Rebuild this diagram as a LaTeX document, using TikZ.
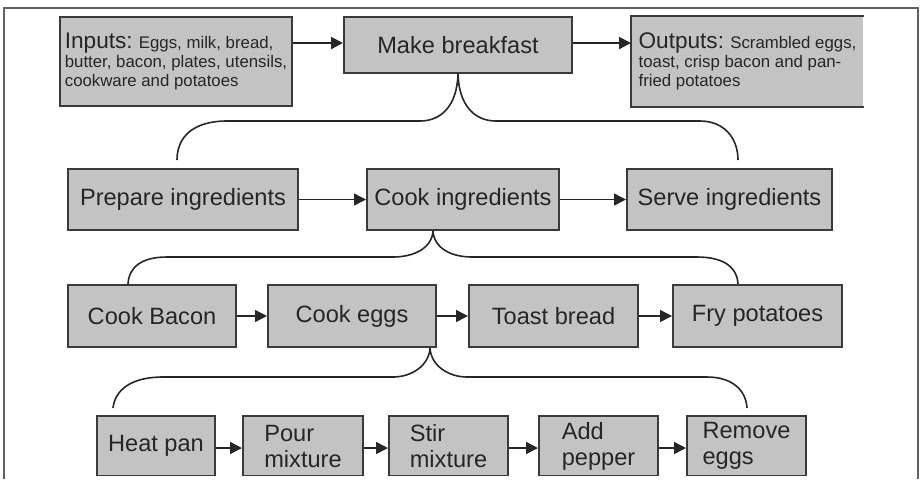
\documentclass[tikz,border=0pt]{standalone}
\usepackage{fontspec}
\setmainfont{Liberation Sans}
\usetikzlibrary{arrows.meta}
\definecolor{boxfill}{HTML}{C3C3C3}
\definecolor{boxline}{HTML}{3A3A3A}
\definecolor{inkcol}{HTML}{262626}
\definecolor{framecol}{HTML}{606060}
\begin{document}
\begin{tikzpicture}[x=0.5pt,y=-0.5pt,
  stepbox/.style={rectangle,draw=boxline,fill=boxfill,line width=1pt,inner sep=0pt,
    text=inkcol,font=\fontsize{11.8pt}{13pt}\selectfont,align=left},
  iobox/.style={stepbox,font=\fontsize{8.4pt}{9.6pt}\selectfont},
  head/.style={font=\fontsize{11.3pt}{9.6pt}\selectfont},
  flow/.style={draw=inkcol,line width=0.75pt,-{Triangle[length=6pt,width=6pt]}},
  bigflow/.style={flow,line width=1pt},
  brace/.style={draw=inkcol,line width=0.8pt},
]
\useasboundingbox (0,0) rectangle (920,479);
% outer frame, open at the bottom
\draw[framecol,line width=1pt] (4,479) -- (4,8) -- (918,8) -- (918,479);

% level 0
\node[iobox,minimum width=116pt,minimum height=44.5pt] (in) at (176,61.5)
  {{\fontsize{11.3pt}{9.6pt}\selectfont Inputs:} Eggs, milk, bread,\\butter, bacon, plates, utensils,\\cookware and potatoes};
\node[stepbox,minimum width=114pt,minimum height=28pt] (mk) at (458,45) {Make breakfast};
\node[iobox,draw=none,minimum width=115.5pt,minimum height=44.5pt] (out) at (747.5,61.5)
  {{\fontsize{11.3pt}{9.6pt}\selectfont Outputs:} Scrambled eggs,\\toast, crisp bacon and pan-\\fried potatoes};
\draw[boxline,line width=1pt] (out.north east) -- (out.north west) -- (out.south west) -- (out.south east);

\draw[bigflow] (in.east |- 0,43) -- (mk.west |- 0,43);
\draw[bigflow] (mk.east |- 0,43) -- (out.west |- 0,43);

% level 1
\node[stepbox,minimum width=115pt,minimum height=30.5pt] (prep) at (183,199.5) {Prepare ingredients};
\node[stepbox,minimum width=96pt,minimum height=30.5pt] (cook) at (463,199.5) {Cook ingredients};
\node[stepbox,minimum width=102.5pt,minimum height=30.5pt] (serve) at (729.5,199.5) {Serve ingredients};
\draw[flow] (prep) -- (cook);
\draw[flow] (cook) -- (serve);

\coordinate (b1l) at ([xshift=-3pt,yshift=4pt]prep.north);
\coordinate (b1r) at ([xshift=4.25pt,yshift=4pt]serve.north);
\draw[brace] (b1l) .. controls (177,137) and (193,121) .. (227,121) -- (420,121)
  .. controls (441,121) and (457,106) .. (mk.south);
\draw[brace] (mk.south) .. controls (459,106) and (475,121) .. (496,121) -- (700,121)
  .. controls (724,121) and (738,138) .. (b1r);

% level 2
\node[stepbox,minimum width=84pt,minimum height=31pt] (bacon) at (152,316) {Cook Bacon};
\node[stepbox,minimum width=84pt,minimum height=31pt] (eggs) at (352,316) {Cook eggs};
\node[stepbox,minimum width=84.5pt,minimum height=31pt] (toast) at (553.5,316) {Toast bread};
\node[stepbox,minimum width=84.5pt,minimum height=31pt] (fry) at (757.5,316) {Fry potatoes};
\draw[flow] (bacon) -- (eggs);
\draw[flow] (eggs) -- (toast);
\draw[flow] (toast) -- (fry);

\coordinate (t2) at ([xshift=-15pt]cook.south);
\coordinate (b2l) at ([xshift=-12pt]bacon.north);
\coordinate (b2r) at ([xshift=-9.75pt]fry.north);
\draw[brace] (b2l) .. controls (129,266) and (143,257) .. (167,257) -- (393,257)
  .. controls (414,257) and (432,248) .. (t2);
\draw[brace] (t2) .. controls (434,248) and (451,257) .. (472,257) -- (697,257)
  .. controls (722,257) and (737,266) .. (b2r);

% level 3
\begin{scope}
\clip (0,0) rectangle (920,475);
\node[stepbox,minimum width=59pt,minimum height=30pt] (heat) at (156,446) {Heat pan};
\node[stepbox,minimum width=60pt,minimum height=30pt] (pour) at (303,446) {Pour\\mixture};
\node[stepbox,minimum width=59.5pt,minimum height=30pt] (stir) at (448.5,446) {Stir\\mixture};
\node[stepbox,minimum width=59.5pt,minimum height=30pt] (add) at (598.5,446) {Add\\pepper};
\node[stepbox,minimum width=59.5pt,minimum height=30pt] (rem) at (746.5,446) {Remove\\eggs};
\end{scope}
\draw[flow] (heat.east |- 0,448) -- (pour.west |- 0,448);
\draw[flow] (pour.east |- 0,448) -- (stir.west |- 0,448);
\draw[flow] (stir.east |- 0,448) -- (add.west |- 0,448);
\draw[flow] (add.east |- 0,448) -- (rem.west |- 0,448);

\coordinate (t3) at ([xshift=39pt]eggs.south);
\coordinate (b3l) at ([xshift=-21.5pt,yshift=3.5pt]heat.north);
\coordinate (b3r) at ([xshift=0.25pt,yshift=3.5pt]rem.north);
\draw[brace] (b3l) .. controls (115,390) and (131,377) .. (163,377) -- (393,377)
  .. controls (411,377) and (429,366) .. (t3);
\draw[brace] (t3) .. controls (431,366) and (449,377) .. (467,377) -- (707,377)
  .. controls (732,377) and (746,390) .. (b3r);
\end{tikzpicture}
\end{document}
